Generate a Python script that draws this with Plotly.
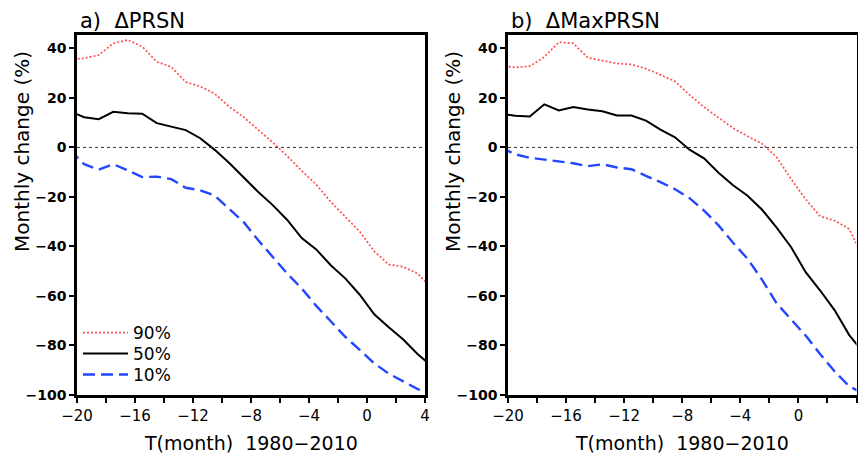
import plotly.graph_objects as go

# Time axis (months); points at half-month positions, clipped by axis range [-20, 4]
t = [-20.5, -19.5, -18.5, -17.5, -16.5, -15.5, -14.5, -13.5, -12.5, -11.5, -10.5, -9.5, -8.5,
     -7.5, -6.5, -5.5, -4.5, -3.5, -2.5, -1.5, -0.5, 0.5, 1.5, 2.5, 3.5, 4.5]

# a) ΔPRSN
prsn_p90 = [35.5, 36.0, 37.3, 42.0, 43.4, 40.7, 34.6, 32.5, 26.4, 24.6, 21.7, 16.4, 12.2,
            7.2, 2.0, -3.5, -9.5, -15.0, -22.0, -28.0, -34.0, -42.0, -47.3, -48.2, -51.0, -57.0]
prsn_p50 = [14.6, 12.2, 11.4, 14.4, 13.8, 13.6, 9.8, 8.4, 7.0, 3.7, -1.0, -6.3, -12.3,
            -18.0, -23.3, -29.3, -36.6, -41.2, -47.6, -52.9, -59.5, -67.4, -72.6, -77.6, -83.5, -88.5]
prsn_p10 = [-1.0, -6.8, -9.0, -6.8, -9.3, -12.0, -11.8, -12.8, -16.3, -17.3, -19.5, -24.8, -30.2,
            -37.5, -44.3, -51.0, -57.0, -64.0, -70.2, -76.5, -81.8, -87.2, -91.4, -94.5, -97.6, -99.8]

# b) ΔMaxPRSN
max_p90 = [33.0, 32.3, 32.8, 36.5, 42.5, 42.0, 36.2, 35.2, 33.9, 33.5, 31.8, 29.3, 26.7,
           21.2, 16.3, 12.0, 7.8, 4.5, 1.5, -4.0, -12.8, -21.0, -27.8, -29.6, -33.0, -45.0]
max_p50 = [13.5, 12.8, 12.5, 17.4, 14.9, 16.3, 15.3, 14.6, 12.9, 12.9, 10.8, 7.2, 4.1,
           -0.9, -4.4, -10.2, -15.3, -19.5, -25.2, -32.4, -40.3, -50.4, -57.8, -65.8, -75.8, -83.0]
max_p10 = [0.0, -2.8, -4.2, -5.0, -5.8, -6.4, -7.6, -6.8, -8.1, -8.8, -11.5, -14.0, -16.9,
           -20.5, -25.5, -31.5, -38.5, -45.0, -53.5, -63.0, -69.5, -76.0, -83.5, -90.5, -96.5, -99.5]

series_names = ["90%", "50%", "10%"]
panel_titles = ["a)  ΔPRSN", "b)  ΔMaxPRSN"]
x_title = "T(month)  1980−2010"
y_title = "Monthly change (%)"
x_tickvals = [-20, -16, -12, -8, -4, 0, 4]
y_tickvals = [-100, -80, -60, -40, -20, 0, 20, 40]

styles = [
    dict(color="#ff5050", width=1.7, dash="2px,2px"),
    dict(color="black", width=2.0, dash="solid"),
    dict(color="#2346ff", width=2.4, dash="12px,6px"),
]
legend_ids = ["legend", "legend2", "legend3"]

fig = go.Figure()
panels = [(prsn_p90, prsn_p50, prsn_p10), (max_p90, max_p50, max_p10)]
for pi, data in enumerate(panels):
    xa = "x" if pi == 0 else "x2"
    ya = "y" if pi == 0 else "y2"
    for si, vals in enumerate(data):
        fig.add_trace(go.Scatter(
            x=t, y=vals, mode="lines", name=series_names[si],
            line=styles[si], xaxis=xa, yaxis=ya, showlegend=(pi == 0),
            legend=legend_ids[si],
        ))

W, H = 858, 457
dom_x1 = [77 / W, 425 / W]
dom_x2 = [508 / W, 856.5 / W]
dom_y = [1 - 395 / H, 1 - 35 / H]

axis_common = dict(showline=True, mirror=True, linewidth=2.5, linecolor="black",
                   showgrid=False, zeroline=False, ticks="outside", tickcolor="black",
                   tickwidth=1.5, ticklen=5, automargin=False)

xa_common = dict(axis_common, range=[-20, 4], tickvals=x_tickvals,
                 tickfont=dict(family="DejaVu Sans", size=15, color="black"),
                 minor=dict(dtick=2, tick0=0, ticks="outside", ticklen=5, tickwidth=1.5,
                            tickcolor="black"))
ya_common = dict(axis_common, range=[-100, 45.4], tickvals=y_tickvals,
                 tickfont=dict(family="DejaVu Sans", size=14, color="black", weight="bold"))

leg_font = dict(family="DejaVu Sans", size=17, color="black")
leg_rows = [333, 354, 375]
legends = {}
for i, lid in enumerate(legend_ids):
    legends[lid] = dict(x=78 / W, y=1 - leg_rows[i] / H, xanchor="left", yanchor="middle",
                        bgcolor="rgba(0,0,0,0)", borderwidth=0, itemwidth=45,
                        font=leg_font)

fig.update_layout(
    width=W, height=H,
    margin=dict(l=0, r=0, t=0, b=0, autoexpand=False),
    paper_bgcolor="white", plot_bgcolor="white",
    xaxis=dict(xa_common, domain=dom_x1, anchor="y"),
    yaxis=dict(ya_common, domain=dom_y, anchor="x"),
    xaxis2=dict(xa_common, domain=dom_x2, anchor="y2"),
    yaxis2=dict(ya_common, domain=dom_y, anchor="x2"),
    **legends,
)

# dotted zero lines
for xr, yr in [("x domain", "y"), ("x2 domain", "y2")]:
    fig.add_shape(type="line", xref=xr, yref=yr, x0=0, x1=1, y0=0, y1=0,
                  line=dict(color="#333333", width=1, dash="dot"))

annots = []
for i, (dx, ylab_x) in enumerate([(dom_x1, 22), (dom_x2, 453)]):
    annots.append(dict(text=panel_titles[i], x=dx[0] + 1 / W, y=1 - 21 / H, xref="paper", yref="paper",
                       xanchor="left", yanchor="middle", showarrow=False,
                       font=dict(family="DejaVu Sans", size=21, color="black")))
    annots.append(dict(text=x_title, x=(dx[0] + dx[1]) / 2, y=1 - 443 / H, xref="paper", yref="paper",
                       xanchor="center", yanchor="middle", showarrow=False,
                       font=dict(family="DejaVu Sans", size=19, color="black")))
    annots.append(dict(text=y_title, x=ylab_x / W, y=1 - 152 / H, xref="paper", yref="paper",
                       xanchor="center", yanchor="middle", showarrow=False, textangle=-90,
                       font=dict(family="DejaVu Sans", size=20, color="black")))
fig.update_layout(annotations=annots)

fig.write_html("out.html", config={"displayModeBar": False},
               post_script="document.body.style.margin='0px';")
